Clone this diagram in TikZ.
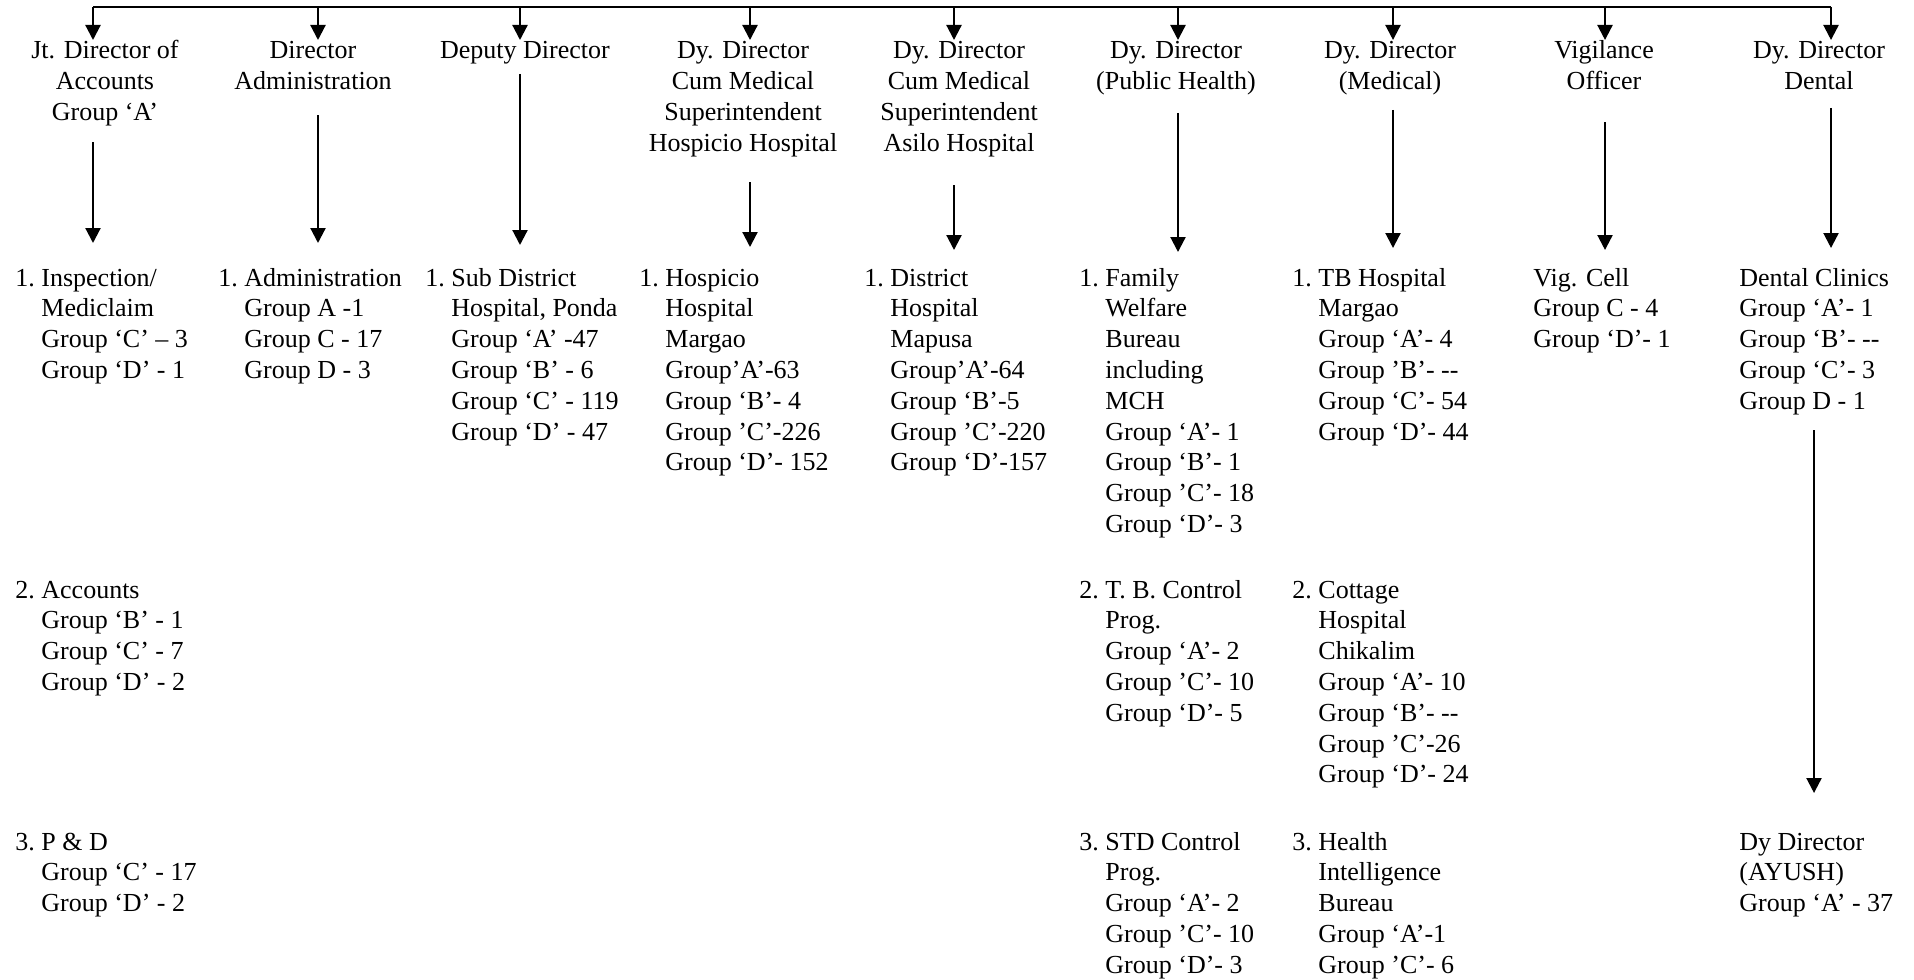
\documentclass[tikz,border=0pt]{standalone}
\usepackage{fontspec}
\setmainfont{Liberation Serif}
\usetikzlibrary{arrows.meta}
\begin{document}
\begin{tikzpicture}[x=0.5pt,y=-0.5pt,
  conn/.style={line width=1.1pt},
  arr/.style={conn,-{Triangle[length=7.5pt,width=7.5pt]}},
  txt/.style={inner sep=0pt,font=\fontsize{13pt}{15.4pt}\selectfont},
  head/.style={txt,anchor=base},
  body/.style={txt,anchor=base west}]
\useasboundingbox (0,0) rectangle (1914,979);

% ---- officers under the Director ----
\node[head] (h1) at (105,59) {\begin{tabular}[t]{@{}c@{}}Jt. Director of\\Accounts\\Group ‘A’\end{tabular}};
\node[head] (h2) at (313,59) {\begin{tabular}[t]{@{}c@{}}Director\\Administration\end{tabular}};
\node[head] (h3) at (525,59) {\begin{tabular}[t]{@{}c@{}}Deputy Director\end{tabular}};
\node[head] (h4) at (743,59) {\begin{tabular}[t]{@{}c@{}}Dy. Director\\Cum Medical\\Superintendent\\Hospicio Hospital\end{tabular}};
\node[head] (h5) at (959,59) {\begin{tabular}[t]{@{}c@{}}Dy. Director\\Cum Medical\\Superintendent\\Asilo Hospital\end{tabular}};
\node[head] (h6) at (1176,59) {\begin{tabular}[t]{@{}c@{}}Dy. Director\\(Public Health)\end{tabular}};
\node[head] (h7) at (1390,59) {\begin{tabular}[t]{@{}c@{}}Dy. Director\\(Medical)\end{tabular}};
\node[head] (h8) at (1604,59) {\begin{tabular}[t]{@{}c@{}}Vigilance\\Officer\end{tabular}};
\node[head] (h9) at (1819,59) {\begin{tabular}[t]{@{}c@{}}Dy. Director\\Dental\end{tabular}};

% ---- first row of units ----
\node[body] (b1) at (15,286) {\begin{tabular}[t]{@{}l@{~}l@{}}1.&Inspection/\\&Mediclaim\\&Group ‘C’ – 3\\&Group ‘D’ - 1\end{tabular}};
\node[body] (b2) at (218,286) {\begin{tabular}[t]{@{}l@{~}l@{}}1.&Administration\\&Group A -1\\&Group C - 17\\&Group D - 3\end{tabular}};
\node[body] (b3) at (425,286) {\begin{tabular}[t]{@{}l@{~}l@{}}1.&Sub District\\&Hospital, Ponda\\&Group ‘A’ -47\\&Group ‘B’ - 6\\&Group ‘C’ - 119\\&Group ‘D’ - 47\end{tabular}};
\node[body] (b4) at (639,286) {\begin{tabular}[t]{@{}l@{~}l@{}}1.&Hospicio\\&Hospital\\&Margao\\&Group’A’-63\\&Group ‘B’- 4\\&Group ’C’-226\\&Group ‘D’- 152\end{tabular}};
\node[body] (b5) at (864,286) {\begin{tabular}[t]{@{}l@{~}l@{}}1.&District\\&Hospital\\&Mapusa\\&Group’A’-64\\&Group ‘B’-5\\&Group ’C’-220\\&Group ‘D’-157\end{tabular}};
\node[body] (b6) at (1079,286) {\begin{tabular}[t]{@{}l@{~}l@{}}1.&Family\\&Welfare\\&Bureau\\&including\\&MCH\\&Group ‘A’- 1\\&Group ‘B’- 1\\&Group ’C’- 18\\&Group ‘D’- 3\end{tabular}};
\node[body] (b7) at (1292,286) {\begin{tabular}[t]{@{}l@{~}l@{}}1.&TB Hospital\\&Margao\\&Group ‘A’- 4\\&Group ’B’- -{}-\\&Group ‘C’- 54\\&Group ‘D’- 44\end{tabular}};
\node[body] (b8) at (1533,286) {\begin{tabular}[t]{@{}l@{}}Vig. Cell\\Group C - 4\\Group ‘D’- 1\end{tabular}};
\node[body] (b9) at (1739,286) {\begin{tabular}[t]{@{}l@{}}Dental Clinics\\Group ‘A’- 1\\Group ‘B’- -{}-\\Group ‘C’- 3\\Group D - 1\end{tabular}};

% ---- second row of units ----
\node[body] (c1) at (15,598) {\begin{tabular}[t]{@{}l@{~}l@{}}2.&Accounts\\&Group ‘B’ - 1\\&Group ‘C’ - 7\\&Group ‘D’ - 2\end{tabular}};
\node[body] (c6) at (1079,598) {\begin{tabular}[t]{@{}l@{~}l@{}}2.&T. B. Control\\&Prog.\\&Group ‘A’- 2\\&Group ’C’- 10\\&Group ‘D’- 5\end{tabular}};
\node[body] (c7) at (1292,598) {\begin{tabular}[t]{@{}l@{~}l@{}}2.&Cottage\\&Hospital\\&Chikalim\\&Group ‘A’- 10\\&Group ‘B’- -{}-\\&Group ’C’-26\\&Group ‘D’- 24\end{tabular}};

% ---- third row of units ----
\node[body] (d1) at (15,850) {\begin{tabular}[t]{@{}l@{~}l@{}}3.&P \& D\\&Group ‘C’ - 17\\&Group ‘D’ - 2\end{tabular}};
\node[body] (d6) at (1079,850) {\begin{tabular}[t]{@{}l@{~}l@{}}3.&STD Control\\&Prog.\\&Group ‘A’- 2\\&Group ’C’- 10\\&Group ‘D’- 3\end{tabular}};
\node[body] (d7) at (1292,850) {\begin{tabular}[t]{@{}l@{~}l@{}}3.&Health\\&Intelligence\\&Bureau\\&Group ‘A’-1\\&Group ’C’- 6\end{tabular}};
\node[body] (d9) at (1739,850) {\begin{tabular}[t]{@{}l@{}}Dy Director\\(AYUSH)\\Group ‘A’ - 37\end{tabular}};

% ---- distribution bar with drops to each officer ----
\foreach \i/\x in {1/93,2/318,3/520,4/750,5/954,6/1178,7/1393,8/1605,9/1831}{
  \coordinate (t\i) at (\x,7);
  \coordinate (s\i) at (\x,40);
}
\draw[conn] (t1) -- (t9);
\foreach \i in {1,...,9}{\draw[arr] (t\i) -- (s\i);}

% ---- officer to unit arrows ----
\foreach \i/\x/\ya/\yb in {1/93/142/243,2/318/115/243,3/520/74/245,4/750/182/247,5/954/185/250,6/1178/113/252,7/1393/110/248,8/1605/122/250,9/1831/108/248}{
  \coordinate (u\i) at (\x,\ya);
  \coordinate (v\i) at (\x,\yb);
  \draw[arr] (u\i) -- (v\i);
}
\coordinate (dentA) at (1814,430);
\coordinate (dentB) at (1814,793);
\draw[arr] (dentA) -- (dentB);
\end{tikzpicture}
\end{document}
